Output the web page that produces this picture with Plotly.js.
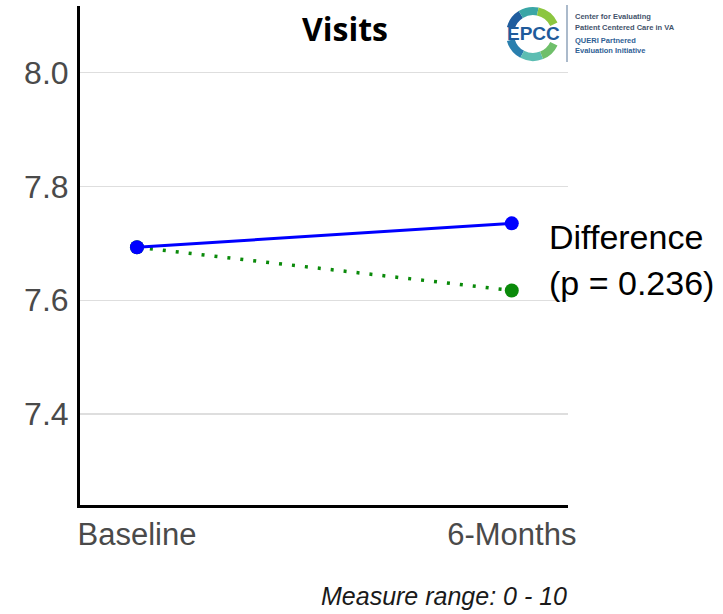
<!DOCTYPE html>
<html>
<head>
<meta charset="utf-8">
<script src="https://cdn.plot.ly/plotly-3.0.1.min.js"></script>
<style>html,body{margin:0;padding:0;background:#fff;}#chart{width:723px;height:614px;}</style>
</head>
<body>
<div id="chart"></div>
<script>
// ---- data ----
const categories = ['Baseline', '6-Months'];
const observed = [7.693, 7.735];     // solid blue
const expected = [7.693, 7.617];     // dotted green
const yTickVals = [7.4, 7.6, 7.8, 8.0];
const yTickText = ['7.4', '7.6', '7.8', '8.0'];
const titleText = 'Visits';
const diffLabel = ['Difference', '(p = 0.236)'];
const rangeNote = 'Measure range: 0 - 10';
const logoLines = ['Center for Evaluating', 'Patient Centered Care in VA', 'QUERI Partnered', 'Evaluation Initiative'];

// ---- geometry helpers (plot area: x 80..568, y 6..505) ----
const L = 80, R = 568, T = 6, B = 505, W = 723, H = 614;
const px = v => (v - L) / (R - L);
const py = v => (B - v) / (B - T);

// ---- logo graphic (ring + divider) as inline SVG ----
function arc(cx, cy, r, a1, a2) {
  const rad = d => d * Math.PI / 180;
  const x1 = cx + r * Math.cos(rad(a1)), y1 = cy - r * Math.sin(rad(a1));
  const x2 = cx + r * Math.cos(rad(a2)), y2 = cy - r * Math.sin(rad(a2));
  return `M${x1.toFixed(2)},${y1.toFixed(2)} A${r},${r} 0 0 1 ${x2.toFixed(2)},${y2.toFixed(2)}`;
}
const cx = 55, cy = 34, rr = 23;
const segs = [
  [165, 122, '#1f5d9e'], [122, 78, '#3aa6a6'], [78, 25, '#8cc63f'],
  [242, 195, '#2a7fae'], [292, 242, '#5cbdb2'], [335, 292, '#6fbf6a']
];
let svg = `<svg xmlns="http://www.w3.org/2000/svg" width="245" height="68" viewBox="0 0 245 68" preserveAspectRatio="none">`;
svg += `<rect x="0" y="0" width="245" height="68" fill="#ffffff"/>`;
segs.forEach(s => { svg += `<path d="${arc(cx, cy, rr, s[0], s[1])}" fill="none" stroke="${s[2]}" stroke-width="8"/>`; });
svg += `<line x1="89" y1="5" x2="89" y2="62" stroke="#8fa3ba" stroke-width="1.5"/>`;
svg += `</svg>`;
const logoSrc = 'data:image/svg+xml;charset=utf-8,' + encodeURIComponent(svg);

const traces = [
  {
    x: categories, y: expected, type: 'scatter', mode: 'lines+markers',
    line: {color: '#0a8a0a', width: 3.5, dash: '3px,10px'},
    marker: {color: '#0a8a0a', size: 14}, hoverinfo: 'skip'
  },
  {
    x: categories, y: observed, type: 'scatter', mode: 'lines+markers',
    line: {color: '#0000ff', width: 3},
    marker: {color: '#0000ff', size: 14}, hoverinfo: 'skip'
  }
];

const sans = 'Liberation Sans, Arial, sans-serif';
const logoFont = {family: sans, size: 7.5, color: '#43536b', weight: 'bold'};
const annotations = [
  {xref: 'paper', yref: 'paper', x: px(547), y: py(237), xanchor: 'left', yanchor: 'middle', showarrow: false,
   text: diffLabel[0], font: {family: sans, size: 34, color: '#000'}},
  {xref: 'paper', yref: 'paper', x: px(547), y: py(283), xanchor: 'left', yanchor: 'middle', showarrow: false,
   text: diffLabel[1], font: {family: sans, size: 34, color: '#000'}},
  {xref: 'paper', yref: 'paper', x: px(569), y: py(596), xanchor: 'right', yanchor: 'middle', showarrow: false,
   text: rangeNote, font: {family: sans, size: 25, color: '#1a1a1a', style: 'italic'}},
  {xref: 'paper', yref: 'paper', x: px(533), y: py(34), xanchor: 'center', yanchor: 'middle', showarrow: false,
   text: '<b>EPCC</b>', font: {family: sans, size: 19, color: '#1f5b9b'}},
  {xref: 'paper', yref: 'paper', x: px(573), y: py(16), xanchor: 'left', yanchor: 'middle', showarrow: false,
   text: '<b>' + logoLines[0] + '</b>', font: logoFont},
  {xref: 'paper', yref: 'paper', x: px(573), y: py(27), xanchor: 'left', yanchor: 'middle', showarrow: false,
   text: '<b>' + logoLines[1] + '</b>', font: logoFont},
  {xref: 'paper', yref: 'paper', x: px(573), y: py(41), xanchor: 'left', yanchor: 'middle', showarrow: false,
   text: '<b>' + logoLines[2] + '</b>', font: Object.assign({}, logoFont, {color: '#2f5f95'})},
  {xref: 'paper', yref: 'paper', x: px(573), y: py(51), xanchor: 'left', yanchor: 'middle', showarrow: false,
   text: '<b>' + logoLines[3] + '</b>', font: Object.assign({}, logoFont, {color: '#2f5f95'})}
];

const layout = {
  width: W, height: H,
  margin: {l: L, r: W - R, t: T, b: H - B, pad: 0},
  paper_bgcolor: '#ffffff', plot_bgcolor: '#ffffff',
  showlegend: false, hovermode: false,
  title: {text: '<b>' + titleText + '</b>', x: 345 / W, xanchor: 'center', y: 1 - 30 / H, yanchor: 'middle',
          font: {family: 'Open Sans, Liberation Sans, sans-serif', size: 32, color: '#000'}},
  xaxis: {
    type: 'category', range: [-0.152, 1.150], fixedrange: true,
    showline: true, linecolor: '#000', linewidth: 3, showgrid: false, zeroline: false,
    ticks: '', ticklabelstandoff: 0,
    tickfont: {family: sans, size: 31, color: '#4a4a4a'}
  },
  yaxis: {
    range: [7.240, 8.117], fixedrange: true,
    tickmode: 'array', tickvals: yTickVals, ticktext: yTickText,
    showline: true, linecolor: '#000', linewidth: 3, zeroline: false,
    showgrid: true, gridcolor: '#dedede', gridwidth: 1.2,
    ticks: '', ticklabelstandoff: 2,
    tickfont: {family: sans, size: 32, color: '#4a4a4a'}
  },
  images: [{
    source: logoSrc, xref: 'paper', yref: 'paper', x: px(478), y: py(0),
    sizex: 245 / (R - L), sizey: 68 / (B - T), xanchor: 'left', yanchor: 'top',
    sizing: 'stretch', layer: 'above'
  }],
  annotations: annotations
};

Plotly.newPlot('chart', traces, layout, {displayModeBar: false, staticPlot: true});
</script>
</body>
</html>
